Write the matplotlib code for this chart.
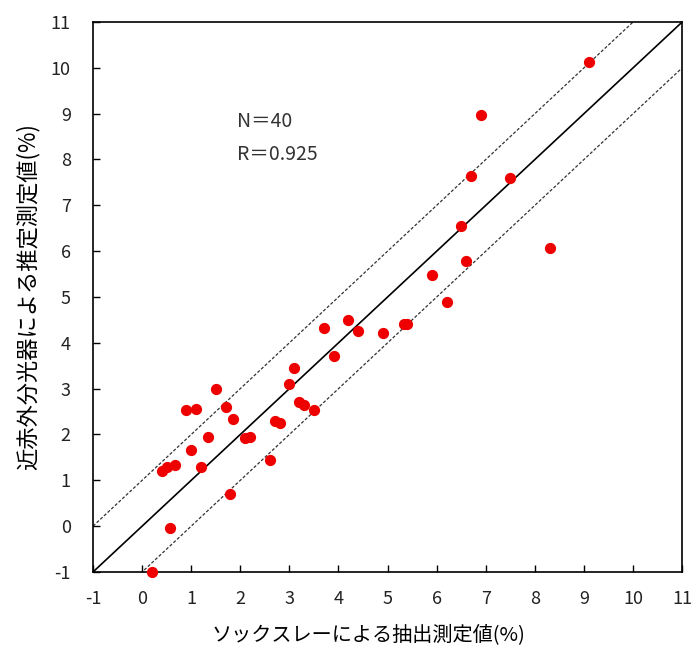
import matplotlib
matplotlib.use('Agg')
import matplotlib.pyplot as plt
import numpy as np

plt.rcParams['font.family'] = ['Noto Sans CJK JP', 'DejaVu Sans']
plt.rcParams['axes.unicode_minus'] = False

# Soxhlet extraction (x) vs NIR estimate (y), %
soxhlet = [9.1, 6.9, 6.7, 7.5, 6.5, 8.3, 6.6, 5.9, 6.2,
           3.7, 4.2, 4.4, 4.9, 3.9, 3.1, 3.0, 1.5, 0.9, 1.1,
           1.7, 1.85, 3.2, 3.3, 3.5, 2.7, 2.8, 1.35, 2.1, 2.2,
           1.0, 2.6, 0.4, 0.5, 0.67, 1.2, 1.8, 0.57, 0.2,
           5.33, 5.4]
nir = [10.13, 8.97, 7.63, 7.59, 6.55, 6.06, 5.79, 5.48, 4.9,
       4.33, 4.49, 4.26, 4.22, 3.72, 3.46, 3.11, 3.0, 2.53, 2.56,
       2.6, 2.33, 2.71, 2.64, 2.53, 2.29, 2.25, 1.95, 1.92, 1.95,
       1.66, 1.44, 1.2, 1.29, 1.34, 1.29, 0.7, -0.05, -0.99,
       4.4, 4.4]
ticks = list(range(-1, 12))

fig = plt.figure(figsize=(6.94, 6.54), dpi=100)
ax = fig.add_axes([0.134, 0.1254, 0.849, 0.8410])

# 1:1 line and +/-1 bands
line = np.array([-1, 11])
ax.plot(line, line, color='black', lw=1.2)
ax.plot(line, line + 1, color='#333333', lw=0.9, ls=(0, (2.5, 1.5)))
ax.plot(line, line - 1, color='#333333', lw=0.9, ls=(0, (2.5, 1.5)))

ax.scatter(soxhlet, nir, s=50, color='#ee0000', zorder=3, clip_on=False)

ax.set_xlim(-1, 11)
ax.set_ylim(-1, 11)
ax.set_xticks(ticks)
ax.set_yticks(ticks)
ax.tick_params(direction='in', length=5, width=1, labelsize=13, labelcolor='#222222')
ax.tick_params(axis='x', pad=13)
ax.tick_params(axis='y', pad=16)
for s in ax.spines.values():
    s.set_linewidth(1.2)

ax.text(1.94, 8.82, 'N＝40', fontsize=14, va='center', color='#333333')
ax.text(1.94, 8.10, 'R＝0.925', fontsize=14, va='center', color='#333333')

ax.set_xlabel('ソックスレーによる抽出測定値(%)', fontsize=14.5, labelpad=12)
ax.xaxis.set_label_coords(0.467, -0.095)
ax.set_ylabel('近赤外分光器による推定測定値(%)', fontsize=16, labelpad=8)

fig.savefig('out.png', dpi=100)
